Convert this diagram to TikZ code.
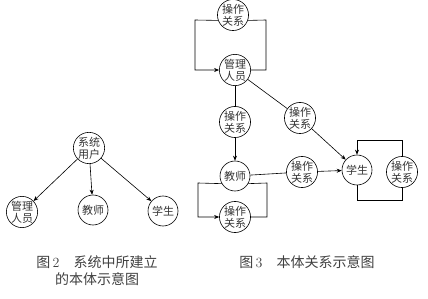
\documentclass[tikz,border=0pt]{standalone}
\usepackage{fontspec}
\newfontfamily\cjk{Noto Sans CJK SC}
\usetikzlibrary{arrows.meta}
\begin{document}
\begin{tikzpicture}[x=1pt,y=-1pt,line width=0.6pt,
  ent/.style={circle,draw,minimum size=30pt,inner sep=0pt,align=center,
    font=\cjk\fontsize{11}{12}\selectfont,text=black!80},
  arr/.style={-{Stealth[length=5pt,width=4pt]}},
  figcap/.style={font=\fontsize{14}{17}\selectfont,text=black!75,align=center,inner sep=0pt}]
  \useasboundingbox (0,0) rectangle (428,299);
  % figure 2
  \node[ent] (sysuser) at (89,148) {系统\\用户};
  \node[ent] (mgr2) at (22,212) {管理\\人员};
  \node[ent] (tch2) at (93,210) {教师};
  \node[ent] (stu2) at (163,211) {学生};
  \draw[arr] (sysuser) -- (mgr2);
  \draw[arr] (sysuser) -- (tch2);
  \draw[arr] (sysuser) -- (stu2);
  \node[figcap] (cap2) at (97,271) {{\cjk 图}\,2\quad{\cjk 系统中所建立}\\{\cjk 的本体示意图}};
  % figure 3
  \node[ent] (optop) at (233,15) {操作\\关系};
  \node[ent] (mgr) at (235,70) {管理\\人员};
  \node[ent] (opmid) at (235,122) {操作\\关系};
  \node[ent] (tch) at (235,176) {教师};
  \node[ent] (opbot) at (235,217) {操作\\关系};
  \node[ent] (opdiag) at (300,118) {操作\\关系};
  \node[ent] (opto) at (302,172) {操作\\关系};
  \node[ent] (stu) at (357,170) {学生};
  \node[ent] (opself) at (402,172) {操作\\关系};
  \coordinate (tl) at (195,20);
  \coordinate (tr) at (266,20);
  \coordinate (bl) at (198,183);
  \coordinate (br) at (267,183);
  \coordinate (st) at (357,140);
  \coordinate (sb) at (357,200);
  \draw[arr] (optop.200) -- (tl) |- (mgr.west);
  \draw (optop.-20) -- (tr) |- (mgr.east);
  \draw (mgr) -- (opmid);
  \draw[arr] (opmid) -- (tch);
  \draw (mgr) -- (opdiag);
  \draw[arr] (opdiag) -- (stu);
  \draw (tch) -- (opto);
  \draw[arr] (opto) -- (stu);
  \draw[arr] (tch.210) -- (bl) |- (opbot.west);
  \draw (tch.-30) -- (br) |- (opbot.east);
  \draw (stu.south) -- (sb) -| (opself.south);
  \draw[arr] (opself.north) |- (st) -- (stu.north);
  \node[figcap] (cap3) at (307,262) {{\cjk 图}\,3\quad{\cjk 本体关系示意图}};
\end{tikzpicture}
\end{document}
